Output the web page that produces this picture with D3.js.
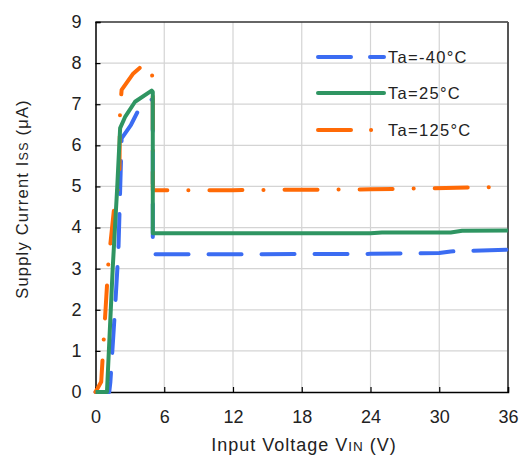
<!DOCTYPE html>
<html>
<head>
<meta charset="utf-8">
<script src="https://cdn.jsdelivr.net/npm/d3@7"></script>
<style>
html,body{margin:0;padding:0;background:#fff;}
svg{display:block;font-family:"Liberation Sans",Arial,sans-serif;}
</style>
</head>
<body>
<svg id="chart" width="521" height="457"></svg>
<script>
// ---- data ----
const xTicks = [0, 6, 12, 18, 24, 30, 36];
const yTicks = [0, 1, 2, 3, 4, 5, 6, 7, 8, 9];
const seriesNames = ["Ta=-40°C", "Ta=25°C", "Ta=125°C"];

const vinM40 = [0, 1.2, 1.3, 1.7, 2.0, 2.28, 3.1, 3.9, 4.75, 5.0, 5.0, 12, 24, 30, 31, 36];
const issM40 = [0, 0, 0.25, 2.0, 3.45, 6.17, 6.5, 6.94, 7.1, 7.12, 3.35, 3.35, 3.36, 3.38, 3.42, 3.46];

const vin25 = [0, 1.0, 1.5, 1.9, 2.15, 2.6, 3.45, 4.9, 5.0, 5.0, 12, 24, 25, 31, 32, 36];
const iss25 = [0, 0, 3.0, 5.0, 6.42, 6.7, 7.06, 7.33, 7.3, 3.86, 3.86, 3.86, 3.88, 3.88, 3.92, 3.93];

const vin125 = [0, 0.5, 0.68, 1.12, 1.7, 2.08, 2.14, 2.28, 3.3, 4.17, 4.9, 5.0, 5.0, 12, 24, 34, 36];
const iss125 = [0.0, 0.25, 1.1, 3.13, 4.67, 5.08, 6.86, 7.35, 7.75, 7.96, 7.87, 7.45, 4.91, 4.91, 4.93, 4.98, 5.0];

const colors = ["#3b6cf2", "#2f9562", "#ff6a06"];
const dashes = ["33 20", null, "33 21 0.1 21"];

// ---- layout ----
(function () {
const svg = d3.select("#chart");
const mL = 95.5, mR = 508, mT = 22, mB = 392;
const x = d3.scaleLinear().domain([0, 36]).range([mL, mR]);
const y = d3.scaleLinear().domain([0, 9]).range([mB, mT]);

// grid
svg.append("g").selectAll("line").data(xTicks.slice(1, -1)).enter().append("line")
  .attr("x1", d => x(d)).attr("x2", d => x(d)).attr("y1", mT).attr("y2", mB)
  .attr("stroke", "#d4d4d4").attr("stroke-width", 1.2);
svg.append("g").selectAll("line").data(yTicks.slice(1, -1)).enter().append("line")
  .attr("x1", mL).attr("x2", mR).attr("y1", d => y(d)).attr("y2", d => y(d))
  .attr("stroke", "#d4d4d4").attr("stroke-width", 1.2);

// frame top/right
svg.append("line").attr("x1", mL).attr("x2", mR).attr("y1", mT).attr("y2", mT)
  .attr("stroke", "#333").attr("stroke-width", 1.5);
svg.append("line").attr("x1", mR).attr("x2", mR).attr("y1", mT).attr("y2", mB)
  .attr("stroke", "#555").attr("stroke-width", 2);

// axes
const xAxis = d3.axisBottom(x).tickValues(xTicks).tickSize(-5).tickPadding(18).tickFormat(d3.format("d"));
const yAxis = d3.axisLeft(y).tickValues(yTicks).tickSize(-5).tickPadding(14).tickFormat(d3.format("d"));
const gx = svg.append("g").attr("transform", `translate(0,${mB})`).call(xAxis);
const gy = svg.append("g").attr("transform", `translate(${mL},0)`).call(yAxis);
[gx, gy].forEach(g => {
  g.select(".domain").attr("stroke", "#000").attr("stroke-width", 1.5);
  g.selectAll(".tick line").attr("stroke", "#000").attr("stroke-width", 1.2);
  g.selectAll(".tick text").attr("fill", "#222").style("font-size", "18px")
    .style("font-family", "'Liberation Sans', Arial, sans-serif");
});
gy.selectAll(".tick text").attr("dy", "0.3em");

// series
const data = [
  vinM40.map((v, i) => [v, issM40[i]]),
  vin25.map((v, i) => [v, iss25[i]]),
  vin125.map((v, i) => [v, iss125[i]])
];
const line = d3.line().x(d => x(d[0])).y(d => y(d[1]));
[0, 2, 1].forEach(i => {
  svg.append("path").datum(data[i]).attr("d", line)
    .attr("fill", "none").attr("stroke", colors[i]).attr("stroke-width", 4)
    .attr("stroke-linecap", i === 1 ? "butt" : "round").attr("stroke-linejoin", "round")
    .attr("stroke-dasharray", dashes[i]);
});

// legend
const legY = [57, 93, 130];
seriesNames.forEach((name, i) => {
  svg.append("line").attr("x1", 318).attr("x2", 384).attr("y1", legY[i]).attr("y2", legY[i])
    .attr("stroke", colors[i]).attr("stroke-width", 4).attr("stroke-linecap", "round")
    .attr("stroke-dasharray", i === 0 ? "33 19" : (i === 2 ? "33 20 0.1 20" : null));
  svg.append("text").attr("x", 388).attr("y", legY[i] + 6).text(name)
    .attr("fill", "#222").style("font-size", "16.5px").style("letter-spacing", "1.3px");
});

// axis titles
const xt = svg.append("text").attr("x", 304).attr("y", 451).attr("text-anchor", "middle")
  .attr("fill", "#222").style("font-size", "18px").style("letter-spacing", "1px");
xt.append("tspan").text("Input Voltage V");
xt.append("tspan").text("IN").style("font-size", "13.5px");
xt.append("tspan").text(" (V)");

const yt = svg.append("text").attr("transform", "translate(28,199) rotate(-90)")
  .attr("text-anchor", "middle").attr("fill", "#222").style("font-size", "16.5px")
  .style("letter-spacing", "1.2px");
yt.append("tspan").text("Supply Current I");
yt.append("tspan").text("SS").style("font-size", "12.5px");
yt.append("tspan").text(" (μA)");
})();
</script>
</body>
</html>
